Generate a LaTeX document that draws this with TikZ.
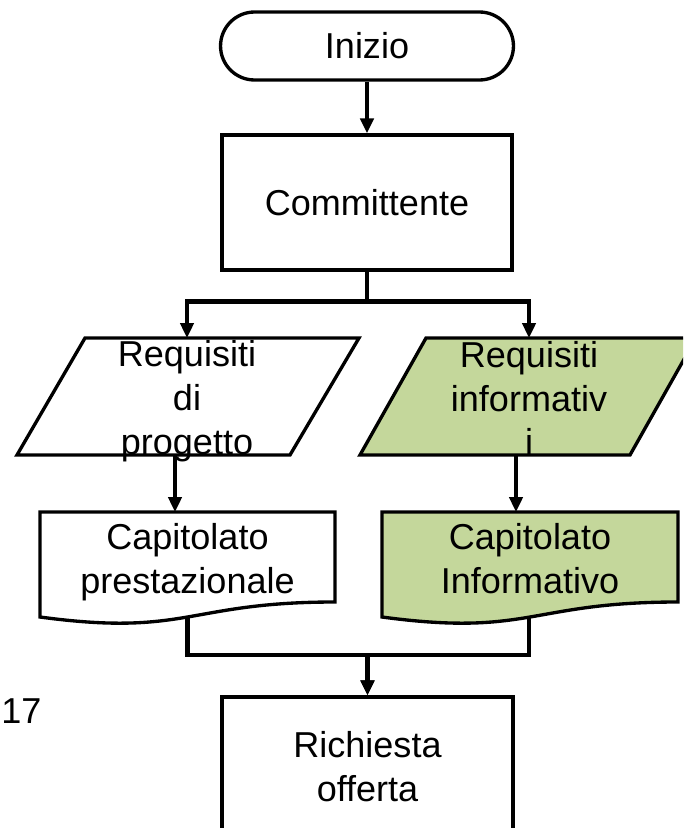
\documentclass[tikz,border=0pt]{standalone}
\usepackage{fontspec}
\setmainfont{Liberation Sans}
\usetikzlibrary{arrows.meta}
\definecolor{verdino}{RGB}{196,215,155}

\begin{document}
\begin{tikzpicture}[x=0.02cm,y=-0.02cm,
  linea/.style={line width=2.7pt},
  freccia/.style={linea,-{Triangle[length=8.5pt,width=7.5pt]}},
  bordo/.style={draw,line width=1.9pt},
  testo/.style={align=center,inner sep=0pt,font=\fontsize{20.5}{25}\selectfont}]
\useasboundingbox (0,0) rectangle (683,828);
\clip (0,0) rectangle (683,828);
% inizio and committente
\node[bordo,testo,rounded corners=0.68cm,minimum width=5.86cm,minimum height=1.36cm] (inizio) at (367,46) {Inizio};
\node[bordo,testo,minimum width=5.8cm,minimum height=2.7cm] (committente) at (367,202.5) {Committente};
% the two parallelograms
\draw[bordo,fill=white] (85,338) -- (359,338) -- (290,455) -- (17,455) -- cycle;
\draw[bordo,fill=verdino] (426,338) -- (696,338) -- (630,455) -- (360,455) -- cycle;
\coordinate (reqPtop) at (187,338);
\coordinate (reqItop) at (529,338);
\coordinate (reqPbot) at (175,455);
\coordinate (reqIbot) at (516,455);
\node[testo] (reqP) at (187,401) {Requisiti\\di\\progetto};
\node[testo] (reqI) at (529,398) {Requisiti\\informativ\\i};
% the two documents
\draw[bordo,fill=white] (40,512) -- (335,512) -- (335,602)
  .. controls (187.5,602) and (187.5,637) .. (40,617) -- cycle;
\draw[bordo,fill=verdino] (382,512) -- (678,512) -- (678,602)
  .. controls (530,602) and (530,637) .. (382,617) -- cycle;
\coordinate (capPtop) at (175,512);
\coordinate (capItop) at (516,512);
\coordinate (capPbot) at (187.5,617);
\coordinate (capIbot) at (529,617);
\node[testo] (capP) at (187.5,562) {Capitolato\\prestazionale};
\node[testo] (capI) at (530,559) {Capitolato\\Informativo};
% richiesta offerta
\node[bordo,testo,minimum width=5.82cm,minimum height=2.8cm] (richiesta) at (367.5,767) {Richiesta\\offerta};
\node[testo,anchor=west] (pagina) at (1,711) {17};
% connectors
\draw[freccia] (inizio) -- (committente);
\draw[freccia] (committente.south) -- ++(0,30) -| (reqPtop);
\draw[freccia] (committente.south) -- ++(0,30) -| (reqItop);
\draw[freccia] (reqPbot) -- (capPtop);
\draw[freccia] (reqIbot) -- (capItop);
\draw[freccia] (capPbot) -- ++(0,38) -| (richiesta.north);
\draw[freccia] (capIbot) -- ++(0,38) -| (richiesta.north);
\end{tikzpicture}
\end{document}
